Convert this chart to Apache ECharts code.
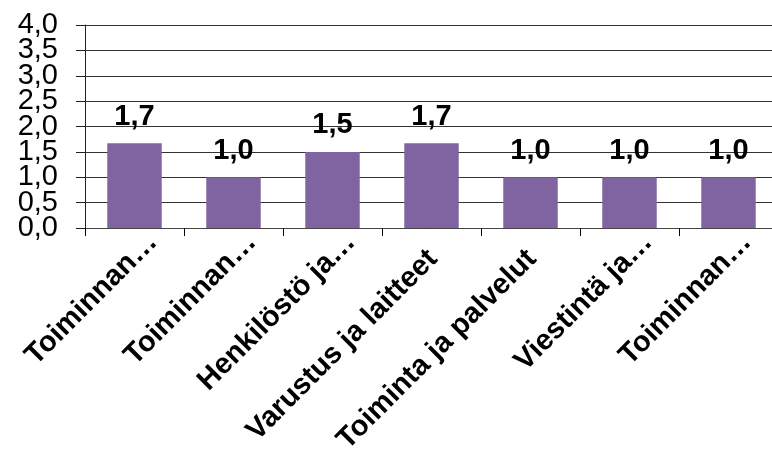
<!DOCTYPE html>
<html>
<head>
<meta charset="utf-8">
<script src="https://cdn.jsdelivr.net/npm/echarts@6/dist/echarts.min.js"></script>
<style>
  html, body { margin: 0; padding: 0; background: #fff; }
  #container { width: 772px; height: 454px; }
</style>
</head>
<body>
<div id="container"></div>
<script>
// categories as shown (truncated by the original chart)
var categories = ['Toiminnan…', 'Toiminnan…', 'Henkilöstö ja…', 'Varustus ja laitteet',
                  'Toiminta ja palvelut', 'Viestintä ja…', 'Toiminnan…'];
var values = [1.67, 1.0, 1.5, 1.67, 1.0, 1.0, 1.0];
var yTicks = [0, 0.5, 1, 1.5, 2, 2.5, 3, 3.5, 4];

var fmt = function (v) { return Number(v).toFixed(1).replace('.', ','); };
var FONT = 'Liberation Sans, Arial, sans-serif';

// labels that were not cut by the original sit a bit lower
var catData = categories.map(function (c) {
  var cut = c.indexOf('…') >= 0;
  return { value: c, textStyle: { padding: cut ? [0, -26, 0, 0] : [14, -2, 0, 0] } };
});

// big y labels overlap their neighbours' boxes, so whole and half steps go on two axes
var yBase = {
  type: 'value',
  min: yTicks[0],
  max: yTicks[yTicks.length - 1],
  interval: 0.5,
  position: 'left'
};
var yLabel = {
  margin: 27,
  color: '#000',
  fontSize: 29,
  fontFamily: FONT,
  hideOverlap: false
};

var myChart = echarts.init(document.getElementById('container'));
var option = {
  animation: false,
  textStyle: { fontFamily: FONT },
  grid: {
    left: 85, top: 25, right: -6, bottom: 226,
    containLabel: false, outerBoundsMode: 'none'
  },
  xAxis: {
    type: 'category',
    data: catData,
    axisLine: { show: true, lineStyle: { color: '#444', width: 1 } },
    axisTick: { show: true, length: 8, lineStyle: { color: '#000' } },
    axisLabel: {
      interval: 0,
      rotate: 45,
      margin: 28,
      color: '#000',
      fontWeight: 'bold',
      fontSize: 29,
      fontFamily: FONT
    },
    splitLine: { show: false }
  },
  yAxis: [
    Object.assign({}, yBase, {
      axisLine: { show: true, onZero: false, lineStyle: { color: '#222', width: 1 } },
      axisTick: { show: true, length: 9, lineStyle: { color: '#222', width: 1 } },
      axisLabel: Object.assign({}, yLabel, {
        showMinLabel: true,
        showMaxLabel: true,
        formatter: function (v) { return (v * 2) % 2 === 0 ? fmt(v) : ''; }
      }),
      splitLine: { show: true, showMinLine: true, showMaxLine: true, lineStyle: { color: '#333', width: 1 } }
    }),
    Object.assign({}, yBase, {
      axisLine: { show: false },
      axisTick: { show: false },
      splitLine: { show: false },
      axisLabel: Object.assign({}, yLabel, {
        showMinLabel: false,
        showMaxLabel: false,
        formatter: function (v) { return (v * 2) % 2 === 1 ? fmt(v) : ''; }
      })
    })
  ],
  series: [{
    type: 'bar',
    yAxisIndex: 0,
    data: values,
    barWidth: '55%',
    itemStyle: { color: '#8064A2' },
    label: {
      show: true,
      position: 'top',
      distance: 12,
      color: '#000',
      fontWeight: 'bold',
      fontSize: 29,
      fontFamily: FONT,
      formatter: function (p) { return fmt(p.value); }
    }
  }]
};
myChart.setOption(option);
</script>
</body>
</html>
